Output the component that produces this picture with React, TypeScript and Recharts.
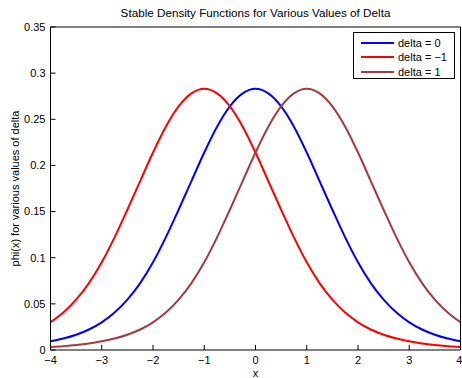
import React from "react";
import { LineChart, Line, XAxis, YAxis, Legend, Label } from "recharts";

// Sample positions along x
const xValues = [
  -4, -3.75, -3.5, -3.25, -3, -2.75, -2.5, -2.25, -2, -1.75, -1.5, -1.25, -1, -0.75, -0.5, -0.25,
  0, 0.25, 0.5, 0.75, 1, 1.25, 1.5, 1.75, 2, 2.25, 2.5, 2.75, 3, 3.25, 3.5, 3.75, 4,
];

// Density values, delta = 0
const deltaZero = [
  0.0094, 0.0124, 0.0165, 0.0222, 0.03, 0.0405, 0.0545, 0.0725, 0.095, 0.122, 0.152, 0.183, 0.214, 0.242, 0.264, 0.278,
  0.283, 0.278, 0.264, 0.242, 0.214, 0.183, 0.152, 0.122, 0.095, 0.0725, 0.0545, 0.0405, 0.03, 0.0222, 0.0165, 0.0124, 0.0094,
];

// Density values, delta = -1
const deltaMinusOne = [
  0.03, 0.0405, 0.0545, 0.0725, 0.095, 0.122, 0.152, 0.183, 0.214, 0.242, 0.264, 0.278, 0.283, 0.278, 0.264, 0.242,
  0.214, 0.183, 0.152, 0.122, 0.095, 0.0725, 0.0545, 0.0405, 0.03, 0.0222, 0.0165, 0.0124, 0.0094, 0.007, 0.0053, 0.0041, 0.0032,
];

// Density values, delta = 1
const deltaOne = [
  0.0032, 0.0041, 0.0053, 0.007, 0.0094, 0.0124, 0.0165, 0.0222, 0.03, 0.0405, 0.0545, 0.0725, 0.095, 0.122, 0.152, 0.183,
  0.214, 0.242, 0.264, 0.278, 0.283, 0.278, 0.264, 0.242, 0.214, 0.183, 0.152, 0.122, 0.095, 0.0725, 0.0545, 0.0405, 0.03,
];

const xTicks = [-4, -3, -2, -1, 0, 1, 2, 3, 4];
const yTicks = [0, 0.05, 0.1, 0.15, 0.2, 0.25, 0.3, 0.35];

const seriesInfo = [
  { key: "d0", name: "delta = 0", color: "#0000ff" },
  { key: "dm1", name: "delta = \u22121", color: "#ff0000" },
  { key: "d1", name: "delta = 1", color: "#a03c3c" },
];

const data = xValues.map((x, i) => ({
  x,
  d0: deltaZero[i],
  dm1: deltaMinusOne[i],
  d1: deltaOne[i],
}));

const FONT = "'Liberation Sans', Arial, Helvetica, sans-serif";
const tickStyle = { fontSize: 11, fill: "#000", fontFamily: FONT };

const fmtX = (v: number) => (v < 0 ? "\u2212" + Math.abs(v) : String(v));
const fmtY = (v: number) => String(v);

const LegendBox = () => (
  <div
    style={{
      position: "relative",
      border: "1px solid #000",
      background: "#fff",
      width: 100,
      height: 45,
      boxSizing: "content-box",
      fontFamily: FONT,
      fontSize: 11,
      color: "#000",
    }}
  >
    {seriesInfo.map((s, i) => (
      <div
        key={s.key}
        style={{ position: "absolute", left: 0, top: 3 + i * 14.3, height: 14, display: "flex", alignItems: "center" }}
      >
        <svg width={42} height={14} style={{ display: "block" }}>
          <line x1={7} x2={40} y1={7} y2={7} stroke={s.color} strokeWidth={2} />
        </svg>
        <span style={{ marginLeft: 2, whiteSpace: "nowrap" }}>{s.name}</span>
      </div>
    ))}
  </div>
);

export default function App() {
  return (
    <div style={{ position: "absolute", left: 0, top: 0, background: "#fff" }}>
      <LineChart
        width={462}
        height={378}
        data={data}
        margin={{ top: 26, right: 0.5, left: 0.5, bottom: 0 }}
        style={{ fontFamily: FONT }}
      >
        <XAxis
          xAxisId="main"
          dataKey="x"
          type="number"
          domain={[-4, 4]}
          ticks={xTicks}
          tickFormatter={fmtX}
          tick={tickStyle}
          tickSize={-5}
          tickMargin={11}
          height={28}
          stroke="#000"
          allowDataOverflow
        >
          <Label
            content={({ viewBox }: any) => (
              <text
                x={viewBox.x + viewBox.width / 2}
                y={viewBox.y + viewBox.height - 1}
                textAnchor="middle"
                fontSize={11}
                fontFamily={FONT}
                fill="#000"
              >
                x
              </text>
            )}
          />
        </XAxis>
        <XAxis
          xAxisId="top"
          orientation="top"
          dataKey="x"
          type="number"
          domain={[-4, 4]}
          ticks={xTicks}
          tick={false}
          tickSize={-5}
          height={1}
          stroke="#000"
          allowDataOverflow
        >
          <Label
            content={({ viewBox }: any) => (
              <text
                x={viewBox.x + viewBox.width / 2}
                y={viewBox.y - 9}
                textAnchor="middle"
                fontSize={11.7}
                fontFamily={FONT}
                fill="#000"
              >
                Stable Density Functions for Various Values of Delta
              </text>
            )}
          />
        </XAxis>
        <YAxis
          yAxisId="main"
          type="number"
          domain={[0, 0.35]}
          ticks={yTicks}
          tickFormatter={fmtY}
          tick={tickStyle}
          tickSize={-5}
          tickMargin={10}
          width={50}
          stroke="#000"
          allowDataOverflow
        >
          <Label
            content={({ viewBox }: any) => {
              const cx = viewBox.x + 14;
              const cy = viewBox.y + viewBox.height / 2;
              return (
                <text
                  x={cx}
                  y={cy}
                  transform={`rotate(-90 ${cx} ${cy})`}
                  textAnchor="middle"
                  dominantBaseline="central"
                  fontSize={11}
                  fontFamily={FONT}
                  fill="#000"
                >
                  phi(x) for various values of delta
                </text>
              );
            }}
          />
        </YAxis>
        <YAxis
          yAxisId="right"
          orientation="right"
          type="number"
          domain={[0, 0.35]}
          ticks={yTicks}
          tick={false}
          tickSize={-5}
          width={1}
          stroke="#000"
          allowDataOverflow
        />
        <Legend
          layout="vertical"
          align="center"
          verticalAlign="middle"
          content={() => <LegendBox />}
          wrapperStyle={{ position: "absolute", left: 353, top: 32, width: 102, height: 47 }}
        />
        {/* unstroked copy bound to the top/right axes so the mirrored box edges are drawn */}
        <Line
          xAxisId="top"
          yAxisId="right"
          dataKey="d0"
          stroke="none"
          dot={false}
          activeDot={false}
          legendType="none"
          isAnimationActive={false}
        />
        {seriesInfo.map((s) => (
          <Line
            key={s.key}
            xAxisId="main"
            yAxisId="main"
            dataKey={s.key}
            name={s.name}
            type="monotone"
            stroke={s.color}
            strokeWidth={2}
            dot={false}
            activeDot={false}
            isAnimationActive={false}
          />
        ))}
      </LineChart>
    </div>
  );
}
